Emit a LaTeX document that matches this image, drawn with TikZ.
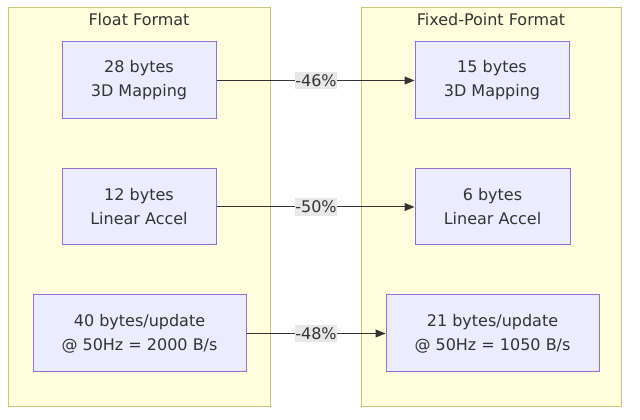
\documentclass[tikz,border=0pt]{standalone}
\usepackage{fontspec}
\setmainfont{DejaVu Sans}
\usetikzlibrary{arrows.meta}
\definecolor{clfill}{HTML}{FFFFDE}
\definecolor{clline}{HTML}{C8C878}
\definecolor{ndfill}{HTML}{ECECFF}
\definecolor{ndline}{HTML}{9370DB}
\definecolor{txt}{HTML}{333333}
\definecolor{lblbg}{HTML}{E8E8E8}
\begin{document}
\begin{tikzpicture}[x=0.75pt,y=-0.75pt,
  every node/.style={font=\fontsize{12}{18}\selectfont, text=txt},
  cluster/.style={draw=clline, fill=clfill, line width=0.75pt},
  box/.style={draw=ndline, fill=ndfill, line width=0.75pt, align=center, inner sep=0pt},
  lbl/.style={fill=lblbg, inner xsep=0.5pt, inner ysep=2pt},
  conn/.style={draw=txt, line width=0.75pt, -{Triangle[length=7.5pt,width=6pt]}}]
\useasboundingbox (0,0) rectangle (640,420);
\draw[cluster] (8,8) rectangle (270,407);
\draw[cluster] (361,8) rectangle (621,407);
\node (t1) at (139,20) {Float Format};
\node (t2) at (491,20) {Fixed-Point Format};
\node[box, minimum width=154*0.75pt, minimum height=77*0.75pt] (l1) at (139,80.5) {28 bytes\\3D Mapping};
\node[box, minimum width=154*0.75pt, minimum height=76*0.75pt] (l2) at (139,207) {12 bytes\\Linear Accel};
\node[box, minimum width=213*0.75pt, minimum height=77*0.75pt] (l3) at (139.5,333.5) {40 bytes/update\\@ 50Hz = 2000 B/s};
\node[box, minimum width=154*0.75pt, minimum height=77*0.75pt] (r1) at (492,80.5) {15 bytes\\3D Mapping};
\node[box, minimum width=155*0.75pt, minimum height=76*0.75pt] (r2) at (492.5,207) {6 bytes\\Linear Accel};
\node[box, minimum width=213*0.75pt, minimum height=77*0.75pt] (r3) at (492.5,333.5) {21 bytes/update\\@ 50Hz = 1050 B/s};
\draw[conn] (l1) -- (r1);
\draw[conn] (l2) -- (r2);
\draw[conn] (l3) -- (r3);
\node[lbl] (e1) at (316,80.5) {-46\%};
\node[lbl] (e2) at (316,207) {-50\%};
\node[lbl] (e3) at (316,333.5) {-48\%};
\end{tikzpicture}
\end{document}
